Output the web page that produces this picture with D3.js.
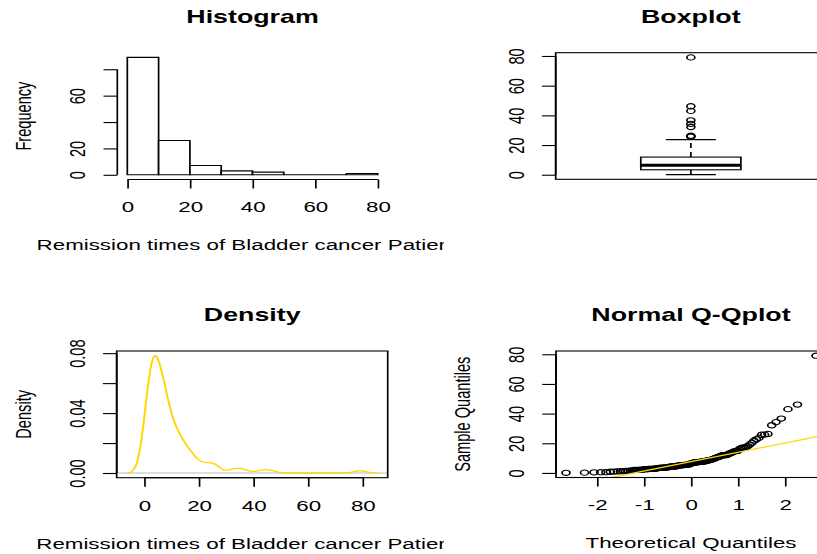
<!DOCTYPE html>
<html>
<head>
<meta charset="utf-8">
<script src="https://cdn.jsdelivr.net/npm/d3@7"></script>
<style>
  body { margin: 0; background: #fff; }
  svg { display: block; }
  text { font-family: "Liberation Sans", Arial, sans-serif; fill: #000; }
</style>
</head>
<body>
<script>
// remission times (months) of 128 bladder cancer patients
const remission = [0.08, 2.09, 3.48, 4.87, 6.94, 8.66, 13.11, 23.63, 0.20, 2.23, 3.52, 4.98, 6.97, 9.02, 13.29,
  0.40, 2.26, 3.57, 5.06, 7.09, 9.22, 13.80, 25.74, 0.50, 2.46, 3.64, 5.09, 7.26, 9.47, 14.24, 25.82,
  0.51, 2.54, 3.70, 5.17, 7.28, 9.74, 14.76, 26.31, 0.81, 2.62, 3.82, 5.32, 7.32, 10.06, 14.77, 32.15,
  2.64, 3.88, 5.32, 7.39, 10.34, 14.83, 34.26, 0.90, 2.69, 4.18, 5.34, 7.59, 10.66, 15.96, 36.66,
  1.05, 2.69, 4.23, 5.41, 7.62, 10.75, 16.62, 43.01, 1.19, 2.75, 4.26, 5.41, 7.63, 17.12, 46.12,
  1.26, 2.83, 4.33, 5.49, 7.66, 11.25, 17.14, 79.05, 1.35, 2.87, 5.62, 7.87, 11.64, 17.36,
  1.40, 3.02, 4.34, 5.71, 7.93, 11.79, 18.10, 1.46, 4.40, 5.85, 8.26, 11.98, 19.13,
  1.76, 3.25, 4.50, 6.25, 8.37, 12.02, 2.02, 3.31, 4.51, 6.54, 8.53, 12.03, 20.28,
  2.02, 3.36, 6.76, 12.07, 21.73, 2.07, 3.36, 6.93, 8.65, 12.63, 22.69]

const histBreaks = [0, 10, 20, 30, 40, 50, 60, 70, 80]
const histXTicks = [0, 20, 40, 60, 80]
const histYTicks = [0, 20, 40, 60, 80]
const histYLabels = ["0", "20", "", "60", ""]
const boxYTicks = [0, 20, 40, 60, 80]
const densXTicks = [0, 20, 40, 60, 80]
const densYTicks = [0, 0.02, 0.04, 0.06, 0.08]
const densYLabels = ["0.00", "", "0.04", "", "0.08"]
const qqXTicks = [-2, -1, 0, 1, 2]
const qqYTicks = [0, 20, 40, 60, 80]
const titles = ["Histogram", "Boxplot", "Density", "Normal Q-Qplot"]
const xLab = "Remission times of Bladder cancer Patients"
const yLabs = ["Frequency", "Density", "Sample Quantiles"]
const qqXLab = "Theoretical Quantiles"

// the picture is stretched sideways, so draw in a squeezed frame and scale it back
const SX = 1.53
const P = v => v / SX
const FS = 14.6
const LW = 1.1
const GOLD = "#FFD700"

const rExt = ([a, b]) => [a - 0.04 * (b - a), b + 0.04 * (b - a)]

// stats
const sorted = remission.slice().sort(d3.ascending)
const n = sorted.length

function fivenum(s) {
    const m = s.length
    const n4 = Math.floor((m + 3) / 2) / 2
    return [1, n4, (m + 1) / 2, m + 1 - n4, m].map(i => 0.5 * (s[Math.floor(i) - 1] + s[Math.ceil(i) - 1]))
}

function qnorm(p) {
    const a = [-3.969683028665376e+01, 2.209460984245205e+02, -2.759285104469687e+02, 1.383577518672690e+02, -3.066479806614716e+01, 2.506628277459239e+00]
    const b = [-5.447609879822406e+01, 1.615858368580409e+02, -1.556989798598866e+02, 6.680131188771972e+01, -1.328068155288572e+01]
    const c = [-7.784894002430293e-03, -3.223964580411365e-01, -2.400758277161838e+00, -2.549732539343734e+00, 4.374664141464968e+00, 2.938163982698783e+00]
    const d = [7.784695709041462e-03, 3.224671290700398e-01, 2.445134137142996e+00, 3.754408661907416e+00]
    const pl = 0.02425
    let q, r
    if (p < pl) {
        q = Math.sqrt(-2 * Math.log(p))
        return (((((c[0]*q+c[1])*q+c[2])*q+c[3])*q+c[4])*q+c[5]) / ((((d[0]*q+d[1])*q+d[2])*q+d[3])*q+1)
    }
    if (p > 1 - pl) {
        q = Math.sqrt(-2 * Math.log(1 - p))
        return -(((((c[0]*q+c[1])*q+c[2])*q+c[3])*q+c[4])*q+c[5]) / ((((d[0]*q+d[1])*q+d[2])*q+d[3])*q+1)
    }
    q = p - 0.5
    r = q * q
    return (((((a[0]*r+a[1])*r+a[2])*r+a[3])*r+a[4])*r+a[5])*q / (((((b[0]*r+b[1])*r+b[2])*r+b[3])*r+b[4])*r+1)
}

// canvas
const svg = d3.select("body").append("svg")
    .attr("width", 817)
    .attr("height", 554)

const defs = svg.append("defs")
function clip(id, x, y, w, h) {
    defs.append("clipPath").attr("id", id)
        .append("rect").attr("x", x).attr("y", y).attr("width", w).attr("height", h)
    return `url(#${id})`
}

const root = svg.append("g").attr("transform", `scale(${SX},1)`)
    .attr("stroke-width", LW)

const leftCol = root.append("g").attr("clip-path", clip("leftcol", 0, 0, P(444), 554))
const rightCol = root.append("g")

// axis helpers (R style: line spans first..last tick)
function axisBottom(g, scale, ticks, labels, y) {
    const ax = g.append("g")
        .attr("transform", `translate(0,${y})`)
        .call(d3.axisBottom(scale).tickValues(ticks).tickSize(9).tickSizeOuter(0)
            .tickFormat((d, i) => labels[i]))
        .attr("font-size", FS).attr("font-family", null)
    ax.select(".domain").remove()
    ax.append("line")
        .attr("x1", scale(ticks[0])).attr("x2", scale(ticks[ticks.length - 1]))
        .attr("stroke", "#000")
    ax.selectAll(".tick line").attr("stroke", "#000")
    ax.selectAll(".tick text").attr("y", 33).attr("dy", null).attr("fill", "#000")
}

function axisLeft(g, scale, ticks, labels, x) {
    const ax = g.append("g")
        .attr("transform", `translate(${x},0)`)
        .call(d3.axisLeft(scale).tickValues(ticks).tickSize(9).tickSizeOuter(0)
            .tickFormat((d, i) => labels[i]))
        .attr("font-size", FS).attr("font-family", null)
    ax.select(".domain").remove()
    ax.append("line")
        .attr("y1", scale(ticks[0])).attr("y2", scale(ticks[ticks.length - 1]))
        .attr("stroke", "#000")
    ax.selectAll(".tick line").attr("stroke", "#000")
    ax.selectAll(".tick text")
        .attr("x", 0).attr("dy", null)
        .attr("text-anchor", "middle")
        .attr("fill", "#000")
        .attr("transform", `translate(${-P(32)},0) rotate(-90)`)
}

function title(g, text, cx, top) {
    g.append("text")
        .attr("x", cx).attr("y", top - 30)
        .attr("text-anchor", "middle")
        .attr("font-size", 17.5)
        .attr("font-weight", "bold")
        .text(text)
}

function xLabel(g, text, cx, axisY) {
    g.append("text")
        .attr("x", cx).attr("y", axisY + 71)
        .attr("text-anchor", "middle")
        .attr("font-size", FS)
        .text(text)
}

function yLabel(g, text, left, cy) {
    g.append("text")
        .attr("transform", `translate(${P(left - 86)},${cy}) rotate(-90)`)
        .attr("text-anchor", "middle")
        .attr("font-size", FS)
        .text(text)
}

function frame(g, d) {
    g.append("rect")
        .attr("x", P(d.left)).attr("y", d.top)
        .attr("width", P(d.right - d.left)).attr("height", d.bottom - d.top)
        .attr("fill", "none").attr("stroke", "#000")
}

// ---------- Histogram ----------
{
    const dim = { left: 117.3, right: 387.7, top: 52.7, bottom: 179.5 }
    const bins = d3.bin().domain([histBreaks[0], histBreaks[histBreaks.length - 1]]).thresholds(histBreaks)(remission)
    const xScale = d3.scaleLinear().domain(rExt([0, 80])).range([P(dim.left), P(dim.right)])
    const yScale = d3.scaleLinear().domain(rExt([0, d3.max(bins, b => b.length)])).range([dim.bottom, dim.top])

    // outline each bar as a closed path so empty bins still show as a line on the baseline
    leftCol.append("g").selectAll("path")
        .data(bins)
        .join("path")
        .attr("d", d => `M${xScale(d.x0)},${yScale(0)}V${yScale(d.length)}H${xScale(d.x1)}V${yScale(0)}Z`)
        .attr("fill", "#fff")
        .attr("stroke", "#000")

    axisBottom(leftCol, xScale, histXTicks, histXTicks.map(String), dim.bottom)
    axisLeft(leftCol, yScale, histYTicks, histYLabels, P(dim.left))
    title(leftCol, titles[0], P((dim.left + dim.right) / 2), dim.top)
    xLabel(leftCol, xLab, P((dim.left + dim.right) / 2), dim.bottom)
    yLabel(leftCol, yLabs[0], dim.left, (dim.top + dim.bottom) / 2)
}

// ---------- Boxplot ----------
{
    const dim = { left: 555.7, right: 826, top: 52.7, bottom: 179.3 }
    const [mn, lo, med, hi, mx] = fivenum(sorted)
    const reach = 1.5 * (hi - lo)
    const wHi = d3.max(sorted.filter(v => v <= hi + reach))
    const wLo = d3.min(sorted.filter(v => v >= lo - reach))
    const outliers = sorted.filter(v => v > wHi || v < wLo)

    const xScale = d3.scaleLinear().domain(rExt([0.5, 1.5])).range([P(dim.left), P(dim.right)])
    const yScale = d3.scaleLinear().domain(rExt(d3.extent(sorted))).range([dim.bottom, dim.top])
    const half = 0.2, staple = 0.1
    const g = rightCol.append("g")

    g.append("line").attr("x1", xScale(1)).attr("x2", xScale(1))
        .attr("y1", yScale(hi)).attr("y2", yScale(wHi))
        .attr("stroke", "#000").attr("stroke-dasharray", "5,4")
    g.append("line").attr("x1", xScale(1)).attr("x2", xScale(1))
        .attr("y1", yScale(lo)).attr("y2", yScale(wLo))
        .attr("stroke", "#000").attr("stroke-dasharray", "5,4")
    g.selectAll(".staple")
        .data([wLo, wHi])
        .join("line")
        .attr("x1", xScale(1 - staple)).attr("x2", xScale(1 + staple))
        .attr("y1", d => yScale(d)).attr("y2", d => yScale(d))
        .attr("stroke", "#000")
    g.append("rect")
        .attr("x", xScale(1 - half)).attr("width", xScale(1 + half) - xScale(1 - half))
        .attr("y", yScale(hi)).attr("height", yScale(lo) - yScale(hi))
        .attr("fill", "none").attr("stroke", "#000")
    g.append("line")
        .attr("x1", xScale(1 - half)).attr("x2", xScale(1 + half))
        .attr("y1", yScale(med)).attr("y2", yScale(med))
        .attr("stroke", "#000").attr("stroke-width", 3)
    g.selectAll("circle")
        .data(outliers)
        .join("circle")
        .attr("cx", xScale(1)).attr("cy", d => yScale(d))
        .attr("r", 2.6)
        .attr("fill", "none").attr("stroke", "#000")

    frame(g, dim)
    axisLeft(g, yScale, boxYTicks, boxYTicks.map(String), P(dim.left))
    title(g, titles[1], P((dim.left + dim.right) / 2), dim.top)
}

// ---------- Density ----------
{
    const dim = { left: 116.7, right: 387.7, top: 351, bottom: 477.7 }
    const iqr = d3.quantileSorted(sorted, 0.75) - d3.quantileSorted(sorted, 0.25)
    const bw = 0.9 * Math.min(d3.deviation(sorted), iqr / 1.34) * Math.pow(n, -0.2)
    const dLo = sorted[0] - 3 * bw, dHi = sorted[n - 1] + 3 * bw
    const grid = d3.range(512).map(i => dLo + i * (dHi - dLo) / 511)
    const dens = grid.map(x => [x,
        d3.mean(sorted, v => Math.exp(-0.5 * ((x - v) / bw) ** 2)) / (bw * Math.sqrt(2 * Math.PI))])

    const xScale = d3.scaleLinear().domain(rExt([dLo, dHi])).range([P(dim.left), P(dim.right)])
    const yScale = d3.scaleLinear().domain(rExt(d3.extent(dens, d => d[1]))).range([dim.bottom, dim.top])
    const plot = leftCol.append("g")
        .attr("clip-path", clip("densclip", P(dim.left), dim.top, P(dim.right - dim.left), dim.bottom - dim.top))

    plot.append("line")
        .attr("x1", P(dim.left)).attr("x2", P(dim.right))
        .attr("y1", yScale(0)).attr("y2", yScale(0))
        .attr("stroke", "#bebebe")
    plot.append("path")
        .datum(dens)
        .attr("d", d3.line().x(d => xScale(d[0])).y(d => yScale(d[1])))
        .attr("fill", "none")
        .attr("stroke", GOLD)
        .attr("stroke-width", 1.3)

    frame(leftCol, dim)
    axisBottom(leftCol, xScale, densXTicks, densXTicks.map(String), dim.bottom)
    axisLeft(leftCol, yScale, densYTicks, densYLabels, P(dim.left))
    title(leftCol, titles[2], P((dim.left + dim.right) / 2), dim.top)
    xLabel(leftCol, xLab, P((dim.left + dim.right) / 2), dim.bottom)
    yLabel(leftCol, yLabs[1], dim.left, (dim.top + dim.bottom) / 2)
}

// ---------- Normal Q-Q plot ----------
{
    const dim = { left: 556, right: 826, top: 351, bottom: 477.5 }
    const theo = d3.range(n).map(i => qnorm((i + 0.5) / n))
    const pts = sorted.map((v, i) => [theo[i], v])
    const q1 = d3.quantileSorted(sorted, 0.25), q3 = d3.quantileSorted(sorted, 0.75)
    const slope = (q3 - q1) / (qnorm(0.75) - qnorm(0.25))
    const icpt = q1 - slope * qnorm(0.25)

    const xScale = d3.scaleLinear().domain(rExt(d3.extent(theo))).range([P(dim.left), P(dim.right)])
    const yScale = d3.scaleLinear().domain(rExt(d3.extent(sorted))).range([dim.bottom, dim.top])
    const g = rightCol.append("g")

    g.append("g").selectAll("circle")
        .data(pts)
        .join("circle")
        .attr("cx", d => xScale(d[0]))
        .attr("cy", d => yScale(d[1]))
        .attr("r", 2.6)
        .attr("fill", "none")
        .attr("stroke", "#000")

    const [x0, x1] = xScale.domain()
    g.append("g")
        .attr("clip-path", clip("qqclip", P(dim.left), dim.top, P(dim.right - dim.left), dim.bottom - dim.top))
        .append("line")
        .attr("x1", xScale(x0)).attr("y1", yScale(icpt + slope * x0))
        .attr("x2", xScale(x1)).attr("y2", yScale(icpt + slope * x1))
        .attr("stroke", GOLD)
        .attr("stroke-width", 1.3)

    frame(g, dim)
    axisBottom(g, xScale, qqXTicks, qqXTicks.map(String), dim.bottom)
    axisLeft(g, yScale, qqYTicks, qqYTicks.map(String), P(dim.left))
    title(g, titles[3], P((dim.left + dim.right) / 2), dim.top)
    xLabel(g, qqXLab, P((dim.left + dim.right) / 2), dim.bottom)
    yLabel(g, yLabs[2], dim.left, (dim.top + dim.bottom) / 2)
}
</script>
</body>
</html>
